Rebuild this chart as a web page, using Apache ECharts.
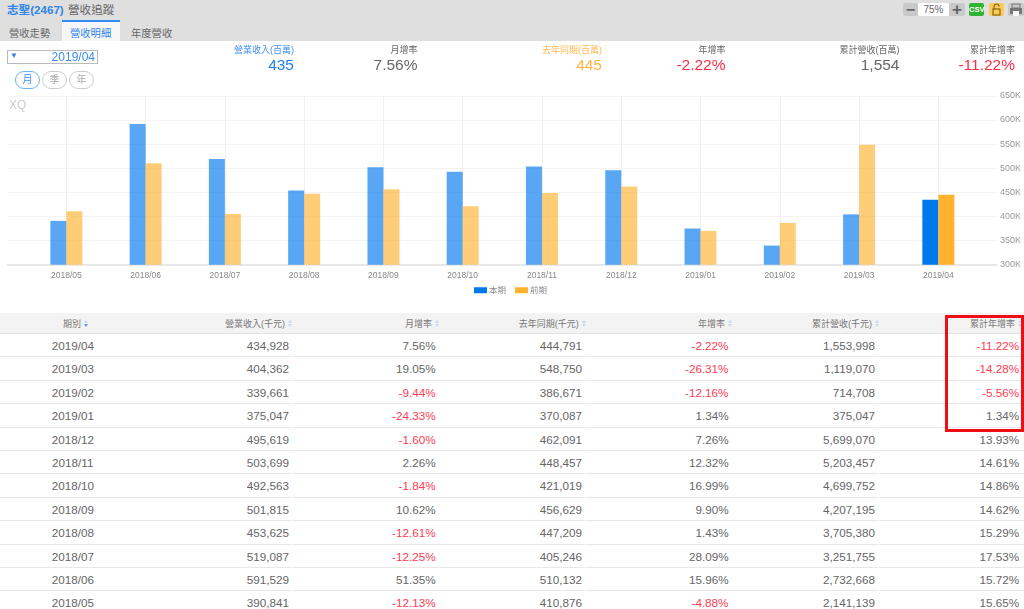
<!DOCTYPE html>
<html>
  <head>
    <meta charset="utf-8">
    <title>志聖(2467) 營收追蹤</title>
    <script src="https://cdn.jsdelivr.net/npm/echarts@6/dist/echarts.min.js"></script>
    <style>
      html, body { margin: 0; width: 1024px; height: 609px; overflow: hidden; background: white; }
      body { position: relative; font-family: "Liberation Sans", "Noto Sans CJK TC", sans-serif; color: #666; }
      .abs { position: absolute; white-space: nowrap; }
      #chart { position: absolute; left: 0; top: 0; width: 1024px; height: 310px; }
      #topbar { position: absolute; left: 0; top: 0; width: 1024px; height: 41px; background: #dfdfdf; }
      #active-tab { position: absolute; left: 62px; top: 20px; width: 58px; height: 19px; background: #f6f6f6; border-top: 2px solid #2f8cf0; }
      .tab { font-size: 10.3px; top: 27px; line-height: 13px; }
      .btn { position: absolute; top: 3px; height: 13px; border-radius: 2px; text-align: center; line-height: 13px; }
      .pill { position: absolute; top: 71px; width: 23px; height: 16px; border: 1px solid #ccc; border-radius: 9px; font-size: 10px; line-height: 16px; text-align: center; color: #aaa; }
      .sum-label { font-size: 9px; line-height: 12px; top: 44px; transform: translateX(-100%); }
      .sum-value { font-size: 15.5px; line-height: 18px; top: 56px; transform: translateX(-100%); }
      #header { position: absolute; left: 0; top: 313px; width: 1024px; height: 21px; background: #f3f3f3; border-bottom: 1px solid #e4e4e4; box-sizing: border-box; }
      #rows { position: absolute; left: 0; top: 334px; width: 1030px; }
      .row { display: flex; height: 23.4px; }
      .cell { flex: none; width: 145.6px; margin-right: 0.9px; height: 23.4px; line-height: 23.4px; box-sizing: border-box; border-bottom: 1.5px solid #e8e8e8; font-size: 11.7px; text-align: right; padding-right: 3px; color: #666; }
      .cell.first { text-align: center; padding-right: 0; }
      .cell:last-child { padding-right: 5.3px; }
      .neg { color: #ff3b52; }
      .head { font-size: 9px; top: 317px; line-height: 14px; transform: translateX(-100%); color: #777; }
      .sort { position: absolute; top: 320px; width: 0; height: 0; }
      .sort i { position: absolute; left: 0; width: 0; height: 0; border-left: 2px solid transparent; border-right: 2px solid transparent; }
      .sort i.up { top: 0; border-bottom: 3px solid #c7dcf0; }
      .sort i.down { top: 4px; border-top: 3px solid #c7dcf0; }
      .sort.on i.down { border-top-color: #5a9fe0; }
      #redbox { position: absolute; left: 945px; top: 315px; width: 79px; height: 117px; box-sizing: border-box; border: 3px solid #f00d14; }
    </style>
  </head>
  <body>
    <div id="chart"></div>
    <div class="abs" style="left:9px;top:98px;font-size:12px;line-height:14px;color:#ccc;">XQ</div>

    <div id="topbar"></div>
    <div id="active-tab"></div>
    <div class="abs" style="left:7px;top:2px;font-size:11.6px;line-height:15px;font-weight:bold;color:#2f86ea;">志聖(2467)</div>
    <div class="abs" style="left:68px;top:2px;font-size:11.6px;line-height:15px;color:#666;">營收追蹤</div>
    <div class="abs tab" style="left:9px;">營收走勢</div>
    <div class="abs tab" style="left:70px;color:#2f86ea;">營收明細</div>
    <div class="abs tab" style="left:131px;">年度營收</div>

    <div class="btn" style="left:903px;width:15px;background:#c9c9c9;font-size:16px;font-weight:bold;">−</div>
    <div class="btn" style="left:918px;width:31px;background:white;font-size:10px;">75%</div>
    <div class="btn" style="left:949px;width:16px;background:#c9c9c9;font-size:17px;font-weight:bold;">+</div>
    <div class="btn" style="left:969px;width:15px;background:#2fb532;color:white;font-size:7.5px;font-weight:bold;">CSV</div>
    <div class="btn" style="left:989px;width:15px;background:#fcc95c;">
      <svg width="15" height="13"><rect x="4" y="6" width="7" height="6" fill="none" stroke="#8a6414" stroke-width="1.2"/><path d="M5 6V3.5a2.5 2.5 0 0 1 5 0" fill="none" stroke="#8a6414" stroke-width="1.2"/></svg>
    </div>
    <div class="btn" style="left:1008px;width:16px;background:#c9c9c9;">
      <svg width="16" height="13"><rect x="2" y="5" width="12" height="6" fill="#777"/><rect x="4" y="1" width="8" height="4" fill="none" stroke="#777"/><rect x="5" y="8" width="6" height="5" fill="white"/></svg>
    </div>

    <div class="abs" style="left:7px;top:50px;width:91px;height:14px;box-sizing:border-box;border:1px solid #bbb;"></div>
    <div class="abs" style="left:10px;top:50px;font-size:8px;line-height:12px;color:#2f7fe0;">▼</div>
    <div class="abs" style="right:929px;top:50px;font-size:12px;line-height:14px;color:#3a8cf0;">2019/04</div>
    <div class="pill" style="left:15px;border-color:#6fb0f0;color:#3a8cf0;">月</div>
    <div class="pill" style="left:42px;">季</div>
    <div class="pill" style="left:69px;">年</div>

    <div id="summary"></div>
    <div id="header"></div>
    <div id="heads"></div>
    <div id="rows"></div>
    <div id="redbox"></div>

    <script type="text/javascript">
      // table order, newest first, revenue in thousands
      const periods = ['2019/04','2019/03','2019/02','2019/01','2018/12','2018/11','2018/10','2018/09','2018/08','2018/07','2018/06','2018/05']
      const revenue = [434928,404362,339661,375047,495619,503699,492563,501815,453625,519087,591529,390841]
      const monthRate = [7.56,19.05,-9.44,-24.33,-1.60,2.26,-1.84,10.62,-12.61,-12.25,51.35,-12.13]
      const lastYear = [444791,548750,386671,370087,462091,448457,421019,456629,447209,405246,510132,410876]
      const yearRate = [-2.22,-26.31,-12.16,1.34,7.26,12.32,16.99,9.90,1.43,28.09,15.96,-4.88]
      const cumulative = [1553998,1119070,714708,375047,5699070,5203457,4699752,4207195,3705380,3251755,2732668,2141139]
      const cumulativeRate = [-11.22,-14.28,-5.56,1.34,13.93,14.61,14.86,14.62,15.29,17.53,15.72,15.65]

      const headLabels = ['期別','營業收入(千元)','月增率','去年同期(千元)','年增率','累計營收(千元)','累計年增率']
      const headRight = [81,285,432,578.7,725,872,1015]
      const legendNames = ['本期','前期']

      const summaryLabels = ['營業收入(百萬)','月增率','去年同期(百萬)','年增率','累計營收(百萬)','累計年增率']
      const summaryValues = ['435','7.56%','445','-2.22%','1,554','-11.22%']
      const summaryRight = [294,417.5,602,725.5,899.5,1015]
      const summaryLabelColors = ['#3d8ef0','#666','#ffb84d','#666','#666','#666']
      const summaryValueColors = ['#1f80ee','#666','#ffb340','#ff2d46','#666','#ff2d46']

      let html = ''
      summaryLabels.forEach((label, i) => {
        html += `<div class="abs sum-label" style="left:${summaryRight[i]}px;color:${summaryLabelColors[i]}">${label}</div>`
        html += `<div class="abs sum-value" style="left:${summaryRight[i]}px;color:${summaryValueColors[i]}">${summaryValues[i]}</div>`
      })
      document.querySelector('#summary').innerHTML = html

      html = ''
      headLabels.forEach((label, i) => {
        html += `<div class="abs head" style="left:${headRight[i]}px">${label}</div>`
        html += `<div class="sort${i === 0 ? ' on' : ''}" style="left:${headRight[i] + 3}px"><i class="up"></i><i class="down"></i></div>`
      })
      document.querySelector('#heads').innerHTML = html

      const pct = (v) => `<div class="cell${v < 0 ? ' neg' : ''}">${v.toFixed(2)}%</div>`
      const num = (v) => `<div class="cell">${v.toLocaleString('en-US')}</div>`
      html = ''
      periods.forEach((p, i) => {
        html += `<div class="row"><div class="cell first">${p}</div>`
          + num(revenue[i]) + pct(monthRate[i]) + num(lastYear[i])
          + pct(yearRate[i]) + num(cumulative[i]) + pct(cumulativeRate[i]) + '</div>'
      })
      document.querySelector('#rows').innerHTML = html

      // the chart runs oldest to newest, only the newest month is fully opaque
      const chartPeriods = periods.slice().reverse()
      const chartBars = (values, color) => values.slice().reverse().map((v, i) => ({
        value: v,
        itemStyle: { color: color, opacity: i === values.length - 1 ? 1 : 0.65 }
      }))

      const myChart = echarts.init(document.getElementById('chart'))
      myChart.setOption({
        animation: false,
        textStyle: { fontFamily: '"Liberation Sans", "Noto Sans CJK TC", sans-serif' },
        legend: {
          left: 474,
          top: 286,
          padding: 0,
          itemWidth: 13,
          itemHeight: 6,
          itemGap: 9,
          icon: 'rect',
          data: legendNames,
          textStyle: { fontSize: 8.5, color: '#888', padding: [0, 0, 0, -3] }
        },
        // first grid is wider, it only carries the scale and the horizontal lines
        grid: [
          { left: 7, right: 27, top: 95.9, height: 168.8 },
          { left: 26.7, right: 46, top: 95.9, height: 168.8 }
        ],
        xAxis: [
          {
            type: 'category',
            gridIndex: 0,
            data: [''],
            axisLine: { lineStyle: { color: '#e4e4e4', width: 1.5 } },
            axisTick: { show: false },
            axisLabel: { show: false }
          },
          {
            type: 'category',
            gridIndex: 1,
            data: chartPeriods,
            axisLine: { show: false },
            axisTick: { show: false },
            axisLabel: { fontSize: 8.5, color: '#888', margin: 7, interval: 0 },
            splitLine: { show: true, alignWithLabel: true, interval: 0, lineStyle: { color: '#f1f1f1' } }
          }
        ],
        yAxis: [
          {
            type: 'value',
            gridIndex: 0,
            position: 'right',
            min: 300000,
            max: 650000,
            interval: 50000,
            axisLine: { show: false },
            axisTick: { show: false },
            axisLabel: { fontSize: 9, color: '#999', margin: 3, padding: [0, 0, 8, 0], formatter: (v) => v / 1000 + 'K' },
            splitLine: { lineStyle: { color: '#f3f3f3' } }
          },
          {
            type: 'value',
            gridIndex: 1,
            min: 300000,
            max: 650000,
            interval: 50000,
            axisLine: { show: false },
            axisTick: { show: false },
            axisLabel: { show: false },
            splitLine: { show: false }
          }
        ],
        series: [
          {
            name: legendNames[0],
            type: 'bar',
            xAxisIndex: 1,
            yAxisIndex: 1,
            barWidth: 16,
            barGap: 0,
            itemStyle: { color: '#0078ee' },
            data: chartBars(revenue, '#0078ee')
          },
          {
            name: legendNames[1],
            type: 'bar',
            xAxisIndex: 1,
            yAxisIndex: 1,
            barWidth: 16,
            barGap: 0,
            itemStyle: { color: '#ffb22e' },
            data: chartBars(lastYear, '#ffb22e')
          }
        ]
      })
    </script>
  </body>
</html>
